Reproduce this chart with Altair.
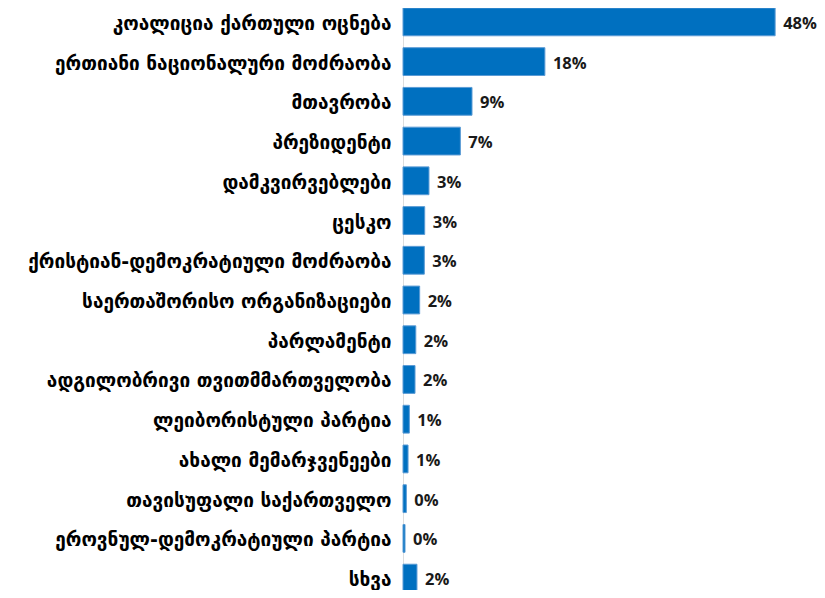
import altair as alt
import pandas as pd

categories = [
    "კოალიცია ქართული ოცნება",
    "ერთიანი ნაციონალური მოძრაობა",
    "მთავრობა",
    "პრეზიდენტი",
    "დამკვირვებლები",
    "ცესკო",
    "ქრისტიან-დემოკრატიული მოძრაობა",
    "საერთაშორისო ორგანიზაციები",
    "პარლამენტი",
    "ადგილობრივი თვითმმართველობა",
    "ლეიბორისტული პარტია",
    "ახალი მემარჯვენეები",
    "თავისუფალი საქართველო",
    "ეროვნულ-დემოკრატიული პარტია",
    "სხვა",
]
values = [48.0, 18.3, 8.9, 7.4, 3.35, 2.8, 2.75, 2.15, 1.65, 1.55, 0.82, 0.65, 0.43, 0.26, 1.8]
labels = ["48%", "18%", "9%", "7%", "3%", "3%", "3%", "2%", "2%", "2%", "1%", "1%", "0%", "0%", "2%"]

df = pd.DataFrame({"cat": categories, "val": values, "lab": labels})

y_enc = alt.Y(
    "cat:N",
    sort=categories,
    title=None,
    scale=alt.Scale(paddingInner=0.3, paddingOuter=0.15),
    axis=alt.Axis(
        domain=False,
        ticks=False,
        grid=False,
        labelPadding=12,
        labelFont="DejaVu Sans",
        labelFontWeight="bold",
        labelFontSize=19,
        labelColor="#000000",
        labelLimit=400,
        labelOffset=2,
    ),
)
x_enc = alt.X(
    "val:Q",
    scale=alt.Scale(domain=[0, 53.4], nice=False),
    axis=None,
)

base = alt.Chart(df).encode(y=y_enc, x=x_enc)

bars = base.mark_bar(color="#0070C0", stroke="#5B9BD5", strokeWidth=1)

text = base.mark_text(
    align="left",
    baseline="middle",
    dx=8,
    dy=2,
    font="Open Sans",
    fontWeight="bold",
    fontSize=16.5,
    color="#1a1a1a",
).encode(text="lab:N")

chart = (
    alt.layer(bars, text)
    .properties(
        width=414,
        height=596,
        autosize=alt.AutoSizeParams(type="none"),
        padding={"left": 395, "top": -6, "right": 0, "bottom": -8},
    )
    .configure_view(stroke="transparent", strokeOpacity=0)
    .configure_axis(grid=False)
    .configure(background="white")
)

chart.save("out.html", embed_options={"renderer": "svg", "actions": False})
